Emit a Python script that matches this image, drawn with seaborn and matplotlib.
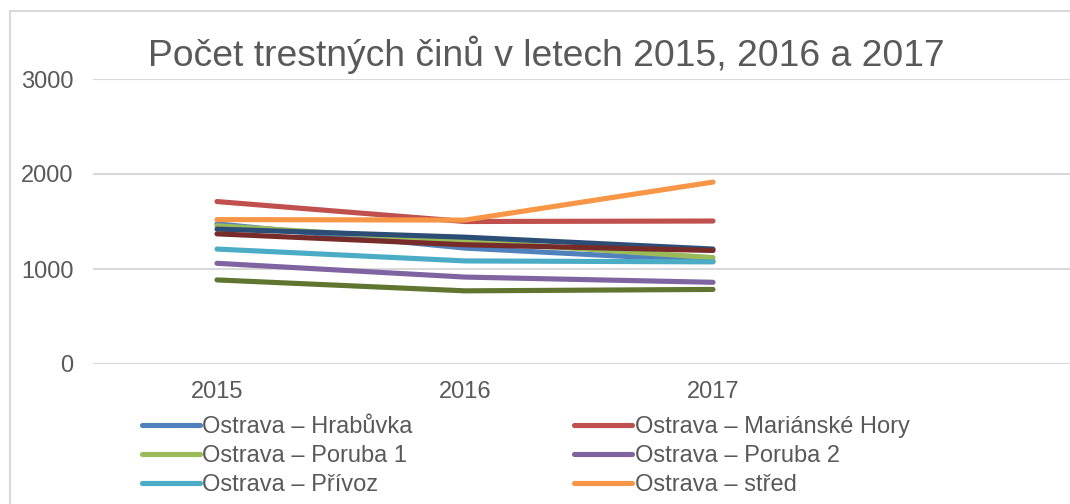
import matplotlib
matplotlib.use('Agg')
import matplotlib.pyplot as plt
import seaborn as sns
import pandas as pd
from matplotlib.patches import Rectangle

# Data (odhad z grafu)
years = [2015, 2016, 2017]
series_names = [
    'Ostrava – Hrabůvka',
    'Ostrava – Mariánské Hory',
    'Ostrava – Poruba 1',
    'Ostrava – Poruba 2',
    'Ostrava – Přívoz',
    'Ostrava – střed',
    'Ostrava – Vítkovice',
    'Ostrava – Zábřeh',
    'Ostrava – Svinov',
]
hrabuvka = [1475, 1220, 1085]
marianske_hory = [1710, 1500, 1505]
poruba_1 = [1455, 1295, 1120]
poruba_2 = [1060, 915, 860]
privoz = [1210, 1085, 1075]
stred = [1520, 1515, 1915]
vitkovice = [1420, 1335, 1210]
zabreh = [1370, 1255, 1195]
svinov = [885, 770, 785]
all_values = [hrabuvka, marianske_hory, poruba_1, poruba_2, privoz,
              stred, vitkovice, zabreh, svinov]

colors = ['#4F81BD', '#C0504D', '#9BBB59', '#8064A2', '#4BACC6',
          '#F79646', '#2C4D75', '#772C2A', '#5F7530']

rows = []
for name, vals in zip(series_names, all_values):
    for y, v in zip(years, vals):
        rows.append({'rok': y, 'pocet': v, 'obvod': name})
df = pd.DataFrame(rows)

# Styl
sns.set_style('white')
plt.rcParams['font.family'] = ['Liberation Sans', 'DejaVu Sans']
text_col = '#595959'
grid_col = '#D9D9D9'

fig = plt.figure(figsize=(10.7, 5.04), dpi=100)
ax = fig.add_axes([93 / 1070, 140 / 504, 992 / 1070, 285 / 504])

sns.lineplot(data=df, x='rok', y='pocet', hue='obvod', hue_order=series_names,
             palette=colors, linewidth=3.7, legend=False, ax=ax,
             solid_capstyle='round')

ax.set_xlim(2014.5, 2018.5)
ax.set_ylim(0, 3000)
ax.set_yticks([0, 1000, 2000, 3000])
ax.set_xticks(years)
ax.set_xticklabels([str(y) for y in years])
ax.set_xlabel('')
ax.set_ylabel('')
ax.grid(axis='y', color=grid_col, linewidth=1.5)
ax.set_axisbelow(True)
for s in ax.spines.values():
    s.set_visible(False)
ax.tick_params(axis='y', length=0, pad=14, labelsize=17, labelcolor=text_col)
ax.tick_params(axis='x', length=0, pad=12, labelsize=17, labelcolor=text_col)

# Titulek
fig.text(546 / 1070, (504 - 66) / 504, 'Počet trestných činů v letech 2015, 2016 a 2017',
         ha='center', va='baseline', fontsize=26.8, color=text_col)

# Legenda - jen viditelné řádky, plnění po řádcích
lines = ax.get_lines()
order = [0, 2, 4, 1, 3, 5]
leg = fig.legend([lines[i] for i in order], [series_names[i] for i in order],
                 ncol=2, loc='upper left', bbox_to_anchor=(142 / 1070, 0.175),
                 frameon=False, fontsize=17, handlelength=2.45, handletextpad=0.1,
                 columnspacing=6.85, labelspacing=0.3, borderpad=0, borderaxespad=0)
for t in leg.get_texts():
    t.set_color(text_col)

# Rámeček grafu
fig.patches.append(Rectangle((10 / 1070, -0.5), 2, (504 - 11) / 504 + 0.5,
                             transform=fig.transFigure, fill=False,
                             edgecolor=grid_col, linewidth=1.5))

fig.savefig('out.png', dpi=100)
